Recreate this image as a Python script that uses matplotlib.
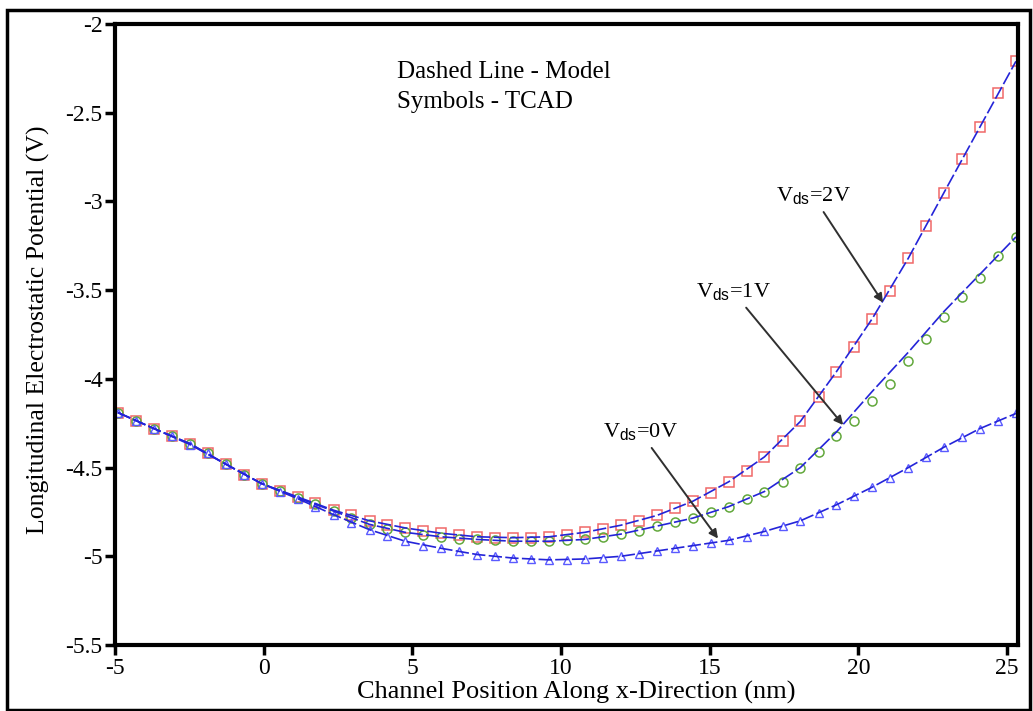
import matplotlib
matplotlib.use("Agg")
import matplotlib.pyplot as plt
from matplotlib.patches import Rectangle

plt.rcParams['font.family'] = ['Liberation Serif', 'DejaVu Serif']
plt.rcParams['mathtext.fontset'] = 'custom'
plt.rcParams['mathtext.rm'] = 'Liberation Serif'
plt.rcParams['mathtext.sf'] = 'Liberation Sans'

# TCAD sample positions along the channel (nm)
x_tcad = [-4.90, -4.30, -3.69, -3.09, -2.48, -1.88, -1.28, -0.67, -0.07, 0.54,
          1.14, 1.74, 2.35, 2.95, 3.56, 4.16, 4.76, 5.37, 5.97, 6.58,
          7.18, 7.78, 8.39, 8.99, 9.60, 10.20, 10.80, 11.41, 12.01, 12.62,
          13.22, 13.82, 14.43, 15.03, 15.64, 16.24, 16.84, 17.45, 18.05, 18.66,
          19.26, 19.86, 20.47, 21.07, 21.68, 22.28, 22.88, 23.49, 24.09, 24.70,
          25.30]

# TCAD potential (V)
tcad_0v = [-4.19, -4.24, -4.28, -4.32, -4.37, -4.42, -4.48, -4.54, -4.59, -4.635,
           -4.675, -4.72, -4.765, -4.81, -4.85, -4.885, -4.915, -4.94, -4.955, -4.97,
           -4.99, -5.0, -5.01, -5.015, -5.02, -5.02, -5.015, -5.01, -5.0, -4.985,
           -4.97, -4.955, -4.94, -4.925, -4.91, -4.89, -4.86, -4.83, -4.80, -4.755,
           -4.71, -4.66, -4.61, -4.56, -4.50, -4.44, -4.385, -4.33, -4.28, -4.235,
           -4.195]
tcad_1v = [-4.19, -4.24, -4.28, -4.32, -4.365, -4.42, -4.48, -4.54, -4.59, -4.63,
           -4.67, -4.705, -4.745, -4.785, -4.82, -4.845, -4.865, -4.88, -4.89, -4.90,
           -4.905, -4.91, -4.915, -4.915, -4.915, -4.91, -4.905, -4.89, -4.875, -4.855,
           -4.83, -4.805, -4.785, -4.75, -4.72, -4.675, -4.635, -4.58, -4.505, -4.41,
           -4.32, -4.24, -4.125, -4.03, -3.90, -3.775, -3.65, -3.54, -3.43, -3.31,
           -3.20]
tcad_2v = [-4.19, -4.24, -4.28, -4.32, -4.365, -4.42, -4.48, -4.54, -4.59, -4.63,
           -4.665, -4.70, -4.74, -4.77, -4.80, -4.825, -4.84, -4.855, -4.87, -4.88,
           -4.89, -4.895, -4.895, -4.895, -4.89, -4.88, -4.865, -4.845, -4.825, -4.80,
           -4.77, -4.73, -4.69, -4.645, -4.58, -4.52, -4.44, -4.35, -4.24, -4.10,
           -3.96, -3.82, -3.66, -3.505, -3.32, -3.14, -2.95, -2.76, -2.58, -2.39,
           -2.21]

# analytical model, coarser grid
x_model = [-4.90, -3.69, -2.48, -1.28, -0.07, 1.14, 2.35, 3.56, 4.76, 5.97,
           7.18, 8.39, 9.60, 10.80, 12.01, 13.22, 14.43, 15.64, 16.84, 18.05,
           19.26, 20.47, 21.68, 22.88, 24.09, 25.30]
model_0v = [-4.19, -4.28, -4.37, -4.48, -4.59, -4.675, -4.765, -4.85, -4.915, -4.955,
            -4.99, -5.01, -5.02, -5.015, -5.0, -4.97, -4.94, -4.91, -4.86, -4.80,
            -4.71, -4.61, -4.50, -4.385, -4.28, -4.195]
model_1v = [-4.19, -4.28, -4.365, -4.48, -4.59, -4.67, -4.745, -4.82, -4.865, -4.89,
            -4.905, -4.915, -4.915, -4.905, -4.875, -4.83, -4.785, -4.72, -4.635, -4.50,
            -4.30, -4.07, -3.85, -3.62, -3.41, -3.20]
model_2v = [-4.19, -4.28, -4.365, -4.48, -4.59, -4.665, -4.74, -4.80, -4.84, -4.87,
            -4.89, -4.895, -4.89, -4.865, -4.825, -4.77, -4.69, -4.58, -4.44, -4.24,
            -3.96, -3.66, -3.32, -2.95, -2.58, -2.21]

x_ticks = [-5, 0, 5, 10, 15, 20, 25]
x_tick_labels = ['-5', '0', '5', '10', '15', '20', '25']
y_ticks = [-5.5, -5, -4.5, -4, -3.5, -3, -2.5, -2]
y_tick_labels = ['-5.5', '-5', '-4.5', '-4', '-3.5', '-3', '-2.5', '-2']

fig = plt.figure(figsize=(10.33, 7.11), dpi=100)
ax = fig.add_axes([0.1113, 0.0928, 0.8742, 0.8734])

line_col = '#2424d8'
dash = (0, (8, 2))
ax.plot(x_tcad, tcad_2v, 's', ms=7, mfc='none', mec='#f06868', mew=1.1)
ax.plot(x_tcad, tcad_1v, 'o', ms=6.5, mfc='none', mec='#62a83c', mew=1.1)
ax.plot(x_tcad, tcad_0v, '^', ms=6, mfc='none', mec='#5a5aff', mew=1.0)
ax.plot(x_model, model_2v, color=line_col, lw=1.2, ls=dash)
ax.plot(x_model, model_1v, color=line_col, lw=1.2, ls=dash)
ax.plot(x_model, model_0v, color=line_col, lw=1.2, ls=dash)

ax.set_xlim(-5, 25.37)
ax.set_ylim(-5.5, -2)
ax.set_xticks(x_ticks)
ax.set_xticklabels(x_tick_labels)
ax.set_yticks(y_ticks)
ax.set_yticklabels(y_tick_labels)
ax.tick_params(direction='out', length=7, width=2.5, labelsize=17, pad=2)
for s in ax.spines.values():
    s.set_linewidth(3)

ax.text(4.49, -2.27, 'Dashed Line - Model', fontsize=18, ha='left', va='center')
ax.text(4.49, -2.44, 'Symbols - TCAD', fontsize=18, ha='left', va='center')

arrow = dict(arrowstyle='-|>', color='#303030', lw=1.4, mutation_scale=13,
             shrinkA=2, shrinkB=0)
ax.annotate(r'V$_{\mathsf{ds}}$=2V', xy=(20.83, -3.57), xytext=(18.48, -2.97),
            fontsize=16, ha='center', va='center', arrowprops=arrow)
ax.annotate(r'V$_{\mathsf{ds}}$=1V', xy=(19.49, -4.26), xytext=(15.79, -3.51),
            fontsize=16, ha='center', va='center', arrowprops=arrow)
ax.annotate(r'V$_{\mathsf{ds}}$=0V', xy=(15.28, -4.90), xytext=(12.66, -4.30),
            fontsize=16, ha='center', va='center', arrowprops=arrow)

fig.text(0.5576, 0.0267, 'Channel Position Along x-Direction (nm)',
         fontsize=19, ha='center', va='center')
fig.text(0.0368, 0.536, 'Longitudinal Electrostatic Potential (V)',
         fontsize=18.5, ha='center', va='center', rotation=90)

# frame round the whole figure
fig.patches.append(Rectangle((7 / 1033, 1 / 711), 1023 / 1033, 700 / 711,
                             transform=fig.transFigure, fill=False,
                             ec='black', lw=2.5))

fig.savefig('out.png', dpi=100)
